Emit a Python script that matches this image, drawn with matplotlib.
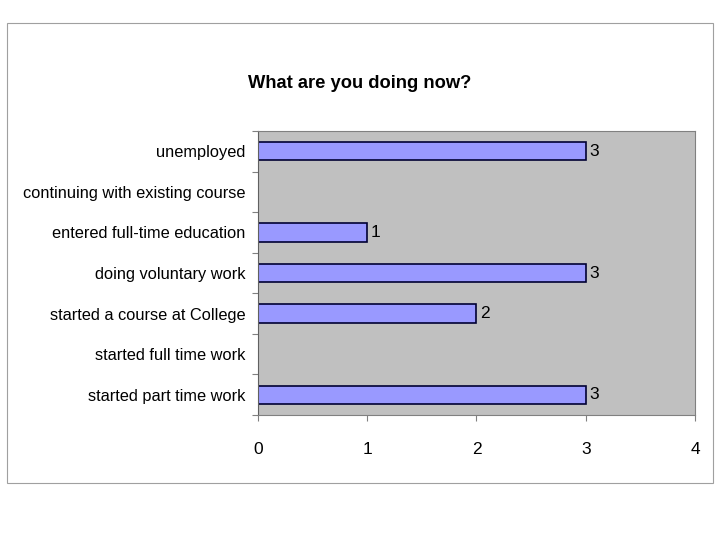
import matplotlib.pyplot as plt
from matplotlib.patches import Rectangle

categories = ['started part time work', 'started full time work',
              'started a course at College', 'doing voluntary work',
              'entered full-time education', 'continuing with existing course',
              'unemployed']
counts = [3, 0, 2, 3, 1, 0, 3]
xticks = [0, 1, 2, 3, 4]

plt.rcParams['font.family'] = ['Liberation Sans', 'DejaVu Sans']

fig = plt.figure(figsize=(7.2, 5.4), dpi=100)
fig.patches.append(Rectangle((7 / 720, 1 - 483 / 540), 706 / 720, 460 / 540,
                             transform=fig.transFigure, fill=False,
                             edgecolor='#a0a0a0', linewidth=0.8))

ax = fig.add_axes([258 / 720, 1 - 415 / 540, 437 / 720, 284 / 540])
ax.set_facecolor('#c0c0c0')
ypos = range(len(categories))
ax.barh(ypos, counts, height=0.45, color='#9999ff', edgecolor='#000033', linewidth=1.2)
for y, v in zip(ypos, counts):
    if v > 0:
        ax.text(v + 0.03, y, str(v), va='center', ha='left', fontsize=12.5)

ax.set_xlim(0, 4)
ax.set_ylim(-0.5, len(categories) - 0.5)
ax.set_xticks(xticks)
ax.set_xticklabels([str(t) for t in xticks], fontsize=12.5)
ax.set_yticks([i - 0.5 for i in range(len(categories) + 1)], minor=False)
ax.set_yticklabels([''] * (len(categories) + 1))
ax.set_yticks(list(ypos), minor=True)
ax.set_yticklabels(categories, minor=True, fontsize=11.8)
ax.tick_params(axis='y', which='minor', length=0, pad=9)
ax.tick_params(axis='y', which='major', length=4.5, color='#808080')
ax.tick_params(axis='x', length=4.5, color='#808080', pad=15)
ax.spines['left'].set_color('#606060')
for s in ['top', 'right', 'bottom']:
    ax.spines[s].set_color('#808080')

fig.text(360 / 720, 1 - 83 / 540, 'What are you doing now?', ha='center', va='center',
         fontsize=13.2, fontweight='bold')

fig.savefig('out.png', dpi=100)
